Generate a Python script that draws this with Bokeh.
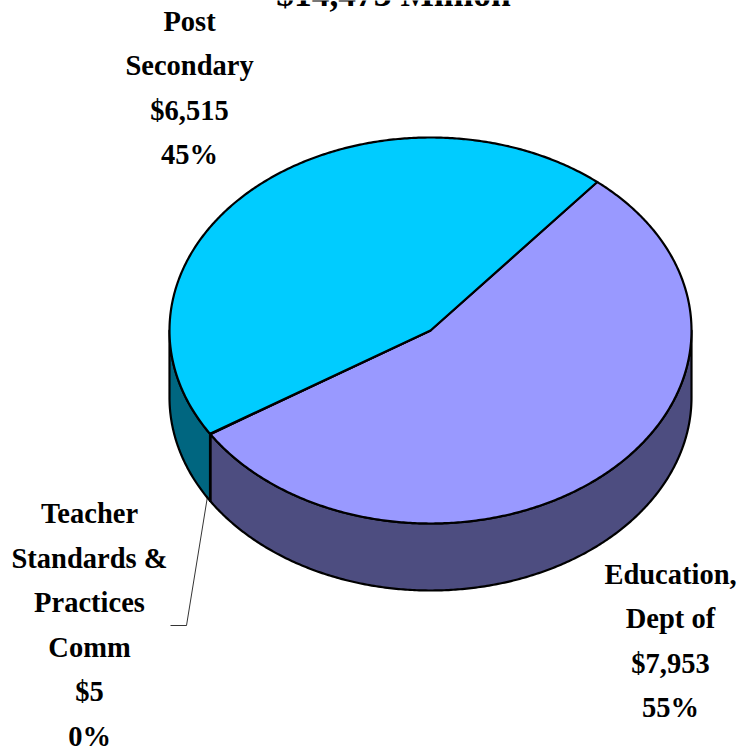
import numpy as np
from bokeh.plotting import figure
from bokeh.models import Range1d
from bokeh.core.properties import value
from bokeh.embed import file_html
from bokeh.resources import INLINE

title_text = "$14,473 Million"
categories = ["Education, Dept of", "Teacher Standards & Practices Comm", "Post Secondary"]
amounts = [7953, 5, 6515]
amount_labels = ["$7,953", "$5", "$6,515"]
percent_labels = ["55%", "0%", "45%"]
label_lines = [
    ["Education,", "Dept of"],
    ["Teacher", "Standards &", "Practices", "Comm"],
    ["Post", "Secondary"],
]
top_colors = ["#9999FF", "#FFFFCC", "#00CCFF"]
side_colors = ["#4D4D80", "#808066", "#006680"]

W, H = 737, 750
CX, CY, RX, RY, DEPTH = 430, 330, 261, 193, 67
START_DEG = 50.3
FONT = "Liberation Serif"
FONT_SIZE = "28.5px"
# label anchors: centre x, first baseline, line step
anchors = [(670, 574, 44.4), (89, 513, 44.6), (189, 21, 44.4)]

p = figure(width=W, height=H, output_backend="svg", toolbar_location=None,
           x_range=Range1d(0, W), y_range=Range1d(H, 0), min_border=0,
           outline_line_color=None, background_fill_color="white")
p.xaxis.visible = False
p.yaxis.visible = False
p.grid.visible = False


def arc(a0, a1, dy=0.0, n=None):
    n = n or max(2, int(abs(a1 - a0)) * 2 + 2)
    t = np.radians(np.linspace(a0, a1, n))
    return CX + RX * np.cos(t), CY - RY * np.sin(t) + dy


total = sum(amounts)
sweeps = [a / total * 360 for a in amounts]
a = START_DEG
slices = []
for s in sweeps:
    slices.append((a, a - s))
    a -= s

# side walls: the part of each slice's rim on the front half (sin < 0)
for (a0, a1), col in zip(slices, side_colors):
    for k in (0, -360):
        lo, hi = max(a1, -180 + k), min(a0, 0 + k)
        if hi > lo:
            x1, y1 = arc(hi, lo)
            x2, y2 = arc(lo, hi, DEPTH)
            p.patch(np.r_[x1, x2], np.r_[y1, y2], fill_color=col,
                    line_color="black", line_width=2.2, line_join="round")

# top faces
for (a0, a1), col in zip(slices, top_colors):
    x, y = arc(a0, a1)
    p.patch(np.r_[CX, x], np.r_[CY, y], fill_color=col,
            line_color="black", line_width=2.2, line_join="round")

# leader line for the tiny slice
p.line([207, 186, 170], [496, 625, 625], line_color="black", line_width=0.8)

# title, cut by the top of the page as in the reference
p.text([393], [-7], text=[title_text], text_font=value(FONT), text_font_style="bold",
       text_font_size="35.5px", text_align="center", text_baseline="alphabetic",
       text_color="black")

for lines, amt, pct, (ax, ay, step) in zip(label_lines, amount_labels, percent_labels, anchors):
    rows = lines + [amt, pct]
    p.text([ax] * len(rows), [ay + i * step for i in range(len(rows))], text=rows,
           text_font=value(FONT), text_font_style="bold", text_font_size=FONT_SIZE,
           text_align="center", text_baseline="alphabetic", text_color="black")

open("out.html", "w").write(file_html(p, INLINE))
